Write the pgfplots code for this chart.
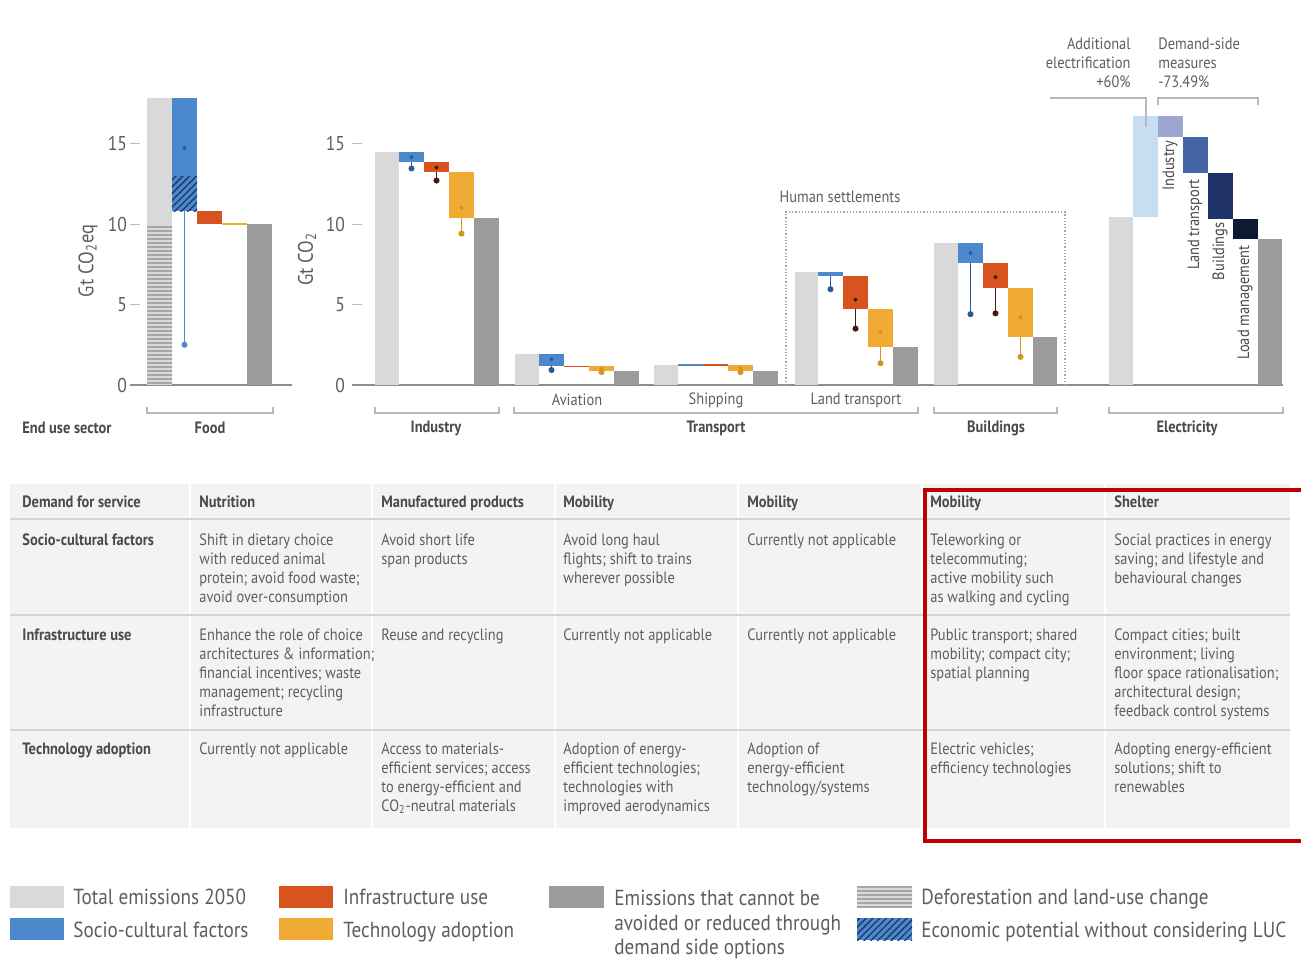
\documentclass[border=0pt]{standalone}
\usepackage{fontspec}
\setmainfont{PT Sans}[FakeStretch=0.88]
\usepackage{pgfplots}
\pgfplotsset{compat=1.18}
\usetikzlibrary{patterns.meta}

% palette
\definecolor{totgrey}{HTML}{D9D9D9}
\definecolor{hatchgrey}{HTML}{A6A6A6}
\definecolor{socio}{HTML}{4C88CC}
\definecolor{sociodark}{HTML}{2B5A97}
\definecolor{hatchblue}{HTML}{1C3566}
\definecolor{infra}{HTML}{D9531E}
\definecolor{infradark}{HTML}{45190F}
\definecolor{tech}{HTML}{F0AB35}
\definecolor{techdark}{HTML}{D4951C}
\definecolor{resid}{HTML}{9B9B9B}
\definecolor{elAdd}{HTML}{C7DDF2}
\definecolor{elInd}{HTML}{9CA6D0}
\definecolor{elLand}{HTML}{4365A6}
\definecolor{elBld}{HTML}{1F3368}
\definecolor{elLoad}{HTML}{0E1933}
\definecolor{txt}{HTML}{5E5E5E}
\definecolor{txtb}{HTML}{4A4A4A}
\definecolor{axisgrey}{HTML}{8E8E8E}
\definecolor{tickgrey}{HTML}{BDBDBD}
\definecolor{bracketgrey}{HTML}{B8B8B8}
\definecolor{dotgrey}{HTML}{A5A5A5}
\definecolor{tablebg}{HTML}{F3F3F3}
\definecolor{rulegrey}{HTML}{D4D4D4}
\definecolor{framered}{HTML}{C00000}

\newcommand{\chfont}{\fontsize{8.2}{9.5}\selectfont}
\newcommand{\ttlfont}{\fontsize{10.5}{12}\selectfont}
\newcommand{\tabfont}{\fontsize{8.2}{9.5}\selectfont}
\newcommand{\lgdfont}{\fontsize{10.9}{12.25}\selectfont}

% floating bar: colour, left, right, bottom, top
\newcommand{\wbar}[5]{\addplot[draw=none, fill=#1, forget plot] coordinates {(#2,#4) (#2,#5) (#3,#5) (#3,#4)};}
% hatched overlay: pattern spec, colour, left, right, bottom, top
\newcommand{\hatchbar}[6]{\addplot[draw=none, pattern={#1}, pattern color=#2, forget plot] coordinates {(#3,#5) (#3,#6) (#4,#6) (#4,#5)};}
% zero-height step: colour, left, right, level
\newcommand{\flatstep}[4]{\addplot[#1, line width=0.6pt, forget plot] coordinates {(#2,#4) (#3,#4)};}
% lower range: colour, x, bar bottom, low end
\newcommand{\drop}[4]{\addplot[#1, line width=0.4pt, mark=*, mark size=1.3pt, mark indices={2}, forget plot] coordinates {(#2,#3) (#2,#4)};}
% central estimate: colour, x, value
\newcommand{\midpt}[3]{\addplot[#1, only marks, mark=*, mark size=0.8pt, forget plot] coordinates {(#2,#3)};}

\pgfplotsset{wf/.style={
  anchor=south west, x=0.5pt, y=8.05pt, ymin=0, ymax=18,
  axis lines=left, axis line style={-},
  x axis line style={draw=axisgrey, line width=1.3pt},
  y axis line style={draw=none},
  xtick=\empty, ytick={0,5,10,15},
  tick align=inside, major tick length=5pt,
  ytick style={draw=tickgrey, line width=0.5pt},
  yticklabel style={font=\fontsize{10}{11}\selectfont, text=txt},
  /pgf/number format/assume math mode=true,
  clip=false,
}}

\begin{document}
\begin{tikzpicture}
\fill[white] (0pt,0pt) rectangle (650.5pt,-481.5pt);
\path[use as bounding box] (0pt,0pt) rectangle (650.5pt,-481.5pt);

% ---------------- Food (Gt CO2eq)
\begin{axis}[wf, at={(65pt,-192.5pt)}, xmin=130, xmax=292,
  yticklabel style={xshift=2pt}]
  \wbar{totgrey}{147}{172}{0}{17.85}
  \hatchbar{Lines[angle=0,distance=2pt,line width=0.55pt]}{hatchgrey}{147}{172}{0}{10}
  \wbar{socio}{172}{197}{10.8}{17.85}
  \hatchbar{Lines[angle=45,distance=2.4pt,line width=0.65pt]}{hatchblue}{172}{197}{10.8}{12.95}
  \drop{socio}{184.5}{10.8}{2.5}
  \midpt{sociodark}{184.5}{14.7}
  \wbar{infra}{197}{222}{10.0}{10.8}
  \flatstep{tech}{222}{247}{10.0}
  \wbar{resid}{247}{272}{0}{10.0}
\end{axis}

% ---------------- Industry, Transport, Buildings, Electricity (Gt CO2)
\begin{axis}[wf, at={(176pt,-192.5pt)}, xmin=352, xmax=1283]
  % Industry
  \wbar{totgrey}{375}{399}{0}{14.5}
  \wbar{socio}{399}{424}{13.85}{14.5}
  \midpt{sociodark}{411.5}{14.15}
  \drop{sociodark}{411.5}{13.85}{13.45}
  \wbar{infra}{424}{449}{13.2}{13.85}
  \midpt{infradark}{436.5}{13.5}
  \drop{infradark}{436.5}{13.2}{12.7}
  \wbar{tech}{449}{474}{10.35}{13.2}
  \midpt{techdark}{461.5}{11.0}
  \drop{techdark}{461.5}{10.35}{9.4}
  \wbar{resid}{474}{499}{0}{10.35}
  % Aviation
  \wbar{totgrey}{515}{539}{0}{1.95}
  \wbar{socio}{539}{564}{1.17}{1.95}
  \midpt{sociodark}{551.5}{1.6}
  \drop{sociodark}{551.5}{1.17}{0.93}
  \flatstep{infra}{564}{589}{1.17}
  \wbar{tech}{589}{614}{0.87}{1.17}
  \midpt{techdark}{601.5}{1.02}
  \drop{techdark}{601.5}{0.87}{0.8}
  \wbar{resid}{614}{639}{0}{0.87}
  % Shipping
  \wbar{totgrey}{654}{678}{0}{1.24}
  \flatstep{socio}{678}{703}{1.24}
  \flatstep{infra}{703}{728}{1.24}
  \wbar{tech}{728}{753}{0.87}{1.24}
  \midpt{techdark}{740.5}{1.05}
  \drop{techdark}{740.5}{0.87}{0.8}
  \wbar{resid}{753}{778}{0}{0.87}
  % Land transport
  \wbar{totgrey}{795}{818}{0}{7.0}
  \wbar{socio}{818}{843}{6.75}{7.0}
  \drop{sociodark}{830.5}{6.75}{5.95}
  \wbar{infra}{843}{868}{4.7}{6.75}
  \midpt{infradark}{855.5}{5.3}
  \drop{infradark}{855.5}{4.7}{3.5}
  \wbar{tech}{868}{893}{2.35}{4.7}
  \midpt{techdark}{880.5}{3.3}
  \drop{techdark}{880.5}{2.35}{1.35}
  \wbar{resid}{893}{918}{0}{2.35}
  % Buildings
  \wbar{totgrey}{934}{958}{0}{8.8}
  \wbar{socio}{958}{983}{7.55}{8.8}
  \midpt{sociodark}{970.5}{8.2}
  \drop{sociodark}{970.5}{7.55}{4.4}
  \wbar{infra}{983}{1008}{6.0}{7.55}
  \midpt{infradark}{995.5}{6.7}
  \drop{infradark}{995.5}{6.0}{4.45}
  \wbar{tech}{1008}{1033}{3.0}{6.0}
  \midpt{techdark}{1020.5}{4.2}
  \drop{techdark}{1020.5}{3.0}{1.75}
  \wbar{resid}{1033}{1057}{0}{3.0}
  % Electricity
  \wbar{totgrey}{1109}{1133}{0}{10.45}
  \wbar{elAdd}{1133}{1158}{10.45}{16.72}
  \wbar{elInd}{1158}{1183}{15.4}{16.72}
  \wbar{elLand}{1183}{1208}{13.15}{15.4}
  \wbar{elBld}{1208}{1233}{10.3}{13.15}
  \wbar{elLoad}{1233}{1258}{9.04}{10.3}
  \wbar{resid}{1258}{1282}{0}{9.04}
\end{axis}

\begin{scope}[x=0.5pt,y=-0.5pt]
  % axis titles
  \node[rotate=90, font=\ttlfont, text=txt] at (88,261) {Gt CO\textsubscript{2}eq};
  \node[rotate=90, font=\ttlfont, text=txt] at (307,259) {Gt CO\textsubscript{2}};

  % sector brackets
  \foreach \a/\b in {147/273, 375/499, 514/918, 934/1057, 1109/1283}
    \draw[bracketgrey, line width=0.6pt] (\a,407) -- (\a,413) -- (\b,413) -- (\b,407);

  \node[anchor=west, font=\chfont\bfseries, text=txtb, inner sep=0] at (22,428) {End use sector};
  \foreach \x/\t in {210/Food, 436/Industry, 716/Transport, 996/Buildings, 1187/Electricity}
    \node[font=\chfont\bfseries, text=txtb] at (\x,428) {\t};
  \foreach \x/\t in {577/Aviation, 716/Shipping, 856/Land transport}
    \node[font=\chfont, text=txt] at (\x,400) {\t};

  % human settlements frame
  \draw[dotgrey, densely dotted, line width=0.6pt] (786,385) -- (786,212) -- (1065,212) -- (1065,385);
  \node[font=\chfont, text=txt] at (840,197) {Human settlements};

  % electricity annotations
  \node[font=\chfont, text=txt, align=right, anchor=north east, inner sep=0] at (1131,37) {Additional\\electrification\\+60\%};
  \node[font=\chfont, text=txt, align=left, anchor=north west, inner sep=0] at (1158,37) {Demand-side\\measures\\-73.49\%};
  \draw[bracketgrey, line width=0.6pt] (1050,98) -- (1146,98) -- (1146,127);
  \draw[bracketgrey, line width=0.6pt] (1158,105) -- (1158,98) -- (1258,98) -- (1258,105);
  \node[rotate=90, anchor=east, font=\chfont, text=txtb, inner sep=0] at (1170,140) {Industry};
  \node[rotate=90, anchor=east, font=\chfont, text=txtb, inner sep=0] at (1195,179) {Land transport};
  \node[rotate=90, anchor=east, font=\chfont, text=txtb, inner sep=0] at (1220,222) {Buildings};
  \node[rotate=90, anchor=east, font=\chfont, text=txtb, inner sep=0] at (1245,245) {Load management};

  % table
  \fill[tablebg] (10,484) rectangle (1290,828);
  \foreach \x in {190,372,555,738,922,1105}
    \draw[white, line width=1pt] (\x,484) -- (\x,828);
  \draw[rulegrey, line width=1.3pt] (10,519) -- (1290,519);
  \draw[rulegrey, line width=1pt] (10,615) -- (1290,615);
  \draw[rulegrey, line width=1pt] (10,730) -- (1290,730);

  \tikzset{hd/.style={anchor=north west, inner sep=0, align=left, font=\tabfont\bfseries, text=txtb},
           cl/.style={anchor=north west, inner sep=0, align=left, font=\tabfont, text=txt}}
  % header
  \node[hd] at (22,495) {Demand for service};
  \node[hd] at (199,495) {Nutrition};
  \node[hd] at (381,495) {Manufactured products};
  \node[hd] at (563,495) {Mobility};
  \node[hd] at (747,495) {Mobility};
  \node[hd] at (930,495) {Mobility};
  \node[hd] at (1114,495) {Shelter};
  % socio-cultural factors
  \node[hd] at (22,533) {Socio-cultural factors};
  \node[cl] at (199,533) {Shift in dietary choice\\with reduced animal\\protein; avoid food waste;\\avoid over-consumption};
  \node[cl] at (381,533) {Avoid short life\\span products};
  \node[cl] at (563,533) {Avoid long haul\\flights; shift to trains\\wherever possible};
  \node[cl] at (747,533) {Currently not applicable};
  \node[cl] at (930,533) {Teleworking or\\telecommuting;\\active mobility such\\as walking and cycling};
  \node[cl] at (1114,533) {Social practices in energy\\saving; and lifestyle and\\behavioural changes};
  % infrastructure use
  \node[hd] at (22,628) {Infrastructure use};
  \node[cl] at (199,628) {Enhance the role of choice\\architectures \& information;\\financial incentives; waste\\management; recycling\\infrastructure};
  \node[cl] at (381,628) {Reuse and recycling};
  \node[cl] at (563,628) {Currently not applicable};
  \node[cl] at (747,628) {Currently not applicable};
  \node[cl] at (930,628) {Public transport; shared\\mobility; compact city;\\spatial planning};
  \node[cl] at (1114,628) {Compact cities; built\\environment; living\\floor space rationalisation;\\architectural design;\\feedback control systems};
  % technology adoption
  \node[hd] at (22,742) {Technology adoption};
  \node[cl] at (199,742) {Currently not applicable};
  \node[cl] at (381,742) {Access to materials-\\efficient services; access\\to energy-efficient and\\CO\textsubscript{2}-neutral materials};
  \node[cl] at (563,742) {Adoption of energy-\\efficient technologies;\\technologies with\\improved aerodynamics};
  \node[cl] at (747,742) {Adoption of\\energy-efficient\\technology/systems};
  \node[cl] at (930,742) {Electric vehicles;\\efficiency technologies};
  \node[cl] at (1114,742) {Adopting energy-efficient\\solutions; shift to\\renewables};

  % highlight frame
  \draw[framered, line width=2pt] (1305,490) -- (925,490) -- (925,841) -- (1305,841);

  % legend
  \fill[totgrey] (10,886) rectangle (64,908);
  \fill[socio] (10,918) rectangle (64,940);
  \fill[infra] (279,886) rectangle (333,908);
  \fill[tech] (279,918) rectangle (333,940);
  \fill[resid] (549,886) rectangle (604,908);
  \fill[totgrey] (857,886) rectangle (912,908);
  \fill[pattern={Lines[angle=0,distance=2pt,line width=0.55pt]}, pattern color=hatchgrey] (857,886) rectangle (912,908);
  \fill[socio] (857,918) rectangle (912,940);
  \fill[pattern={Lines[angle=45,distance=2.4pt,line width=0.65pt]}, pattern color=hatchblue] (857,918) rectangle (912,940);
  \tikzset{lg/.style={anchor=base west, inner sep=0, font=\lgdfont, text=txt}}
  \node[lg] at (73,904) {Total emissions 2050};
  \node[lg] at (73,937) {Socio-cultural factors};
  \node[lg] at (343,904) {Infrastructure use};
  \node[lg] at (343,937) {Technology adoption};
  \node[anchor=north west, inner sep=0, align=left, font=\lgdfont, text=txt] at (614,890) {Emissions that cannot be\\avoided or reduced through\\demand side options};
  \node[lg] at (921,904) {Deforestation and land-use change};
  \node[lg] at (921,937) {Economic potential without considering LUC};
\end{scope}
\end{tikzpicture}
\end{document}
